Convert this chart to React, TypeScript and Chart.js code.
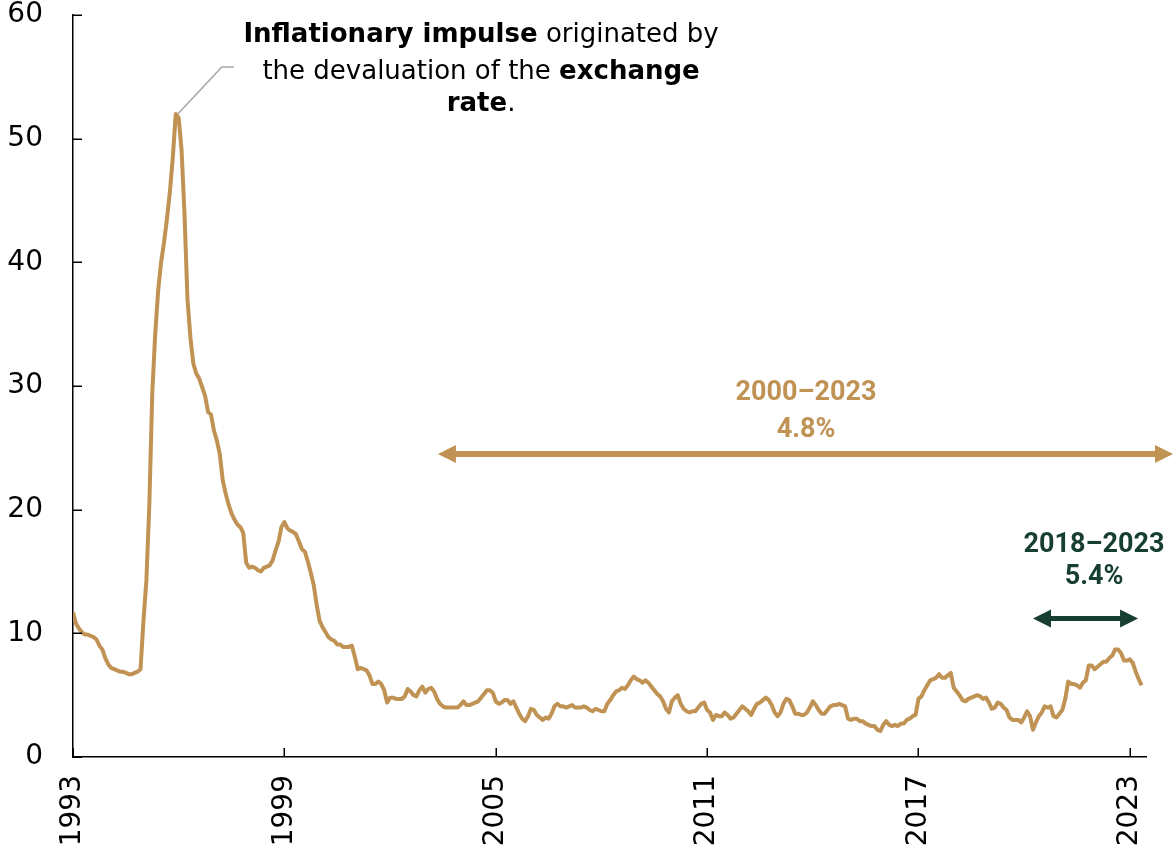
import { useEffect, useRef } from 'react';
import { Chart, registerables } from 'chart.js';

Chart.register(...registerables);

// Annual inflation (%), monthly, Jan 1993 – May 2023
const y1993 = [11.7, 10.8, 10.4, 10.1, 9.9, 9.9, 9.8, 9.7, 9.5, 9.0, 8.7, 8.0];
const y1994 = [7.5, 7.2, 7.1, 7.0, 6.9, 6.9, 6.8, 6.7, 6.7, 6.8, 6.9, 7.1];
const y1995 = [11.0, 14.3, 20.4, 29.4, 34.2, 37.7, 40.0, 41.6, 43.5, 45.7, 48.5, 52.0];
const y1996 = [51.7, 49.0, 43.8, 37.0, 33.9, 31.8, 31.0, 30.6, 29.9, 29.2, 27.9, 27.7];
const y1997 = [26.4, 25.6, 24.5, 22.4, 21.3, 20.4, 19.7, 19.2, 18.8, 18.6, 18.1, 15.7];
const y1998 = [15.3, 15.4, 15.3, 15.1, 15.0, 15.3, 15.4, 15.5, 15.9, 16.7, 17.4, 18.6];
const y1999 = [19.0, 18.5, 18.3, 18.2, 18.0, 17.4, 16.8, 16.6, 15.8, 14.9, 13.9, 12.3];
const y2000 = [11.0, 10.5, 10.1, 9.7, 9.5, 9.4, 9.1, 9.1, 8.9, 8.9, 8.9, 9.0];
const y2001 = [8.1, 7.1, 7.2, 7.1, 7.0, 6.6, 5.9, 5.9, 6.1, 5.9, 5.4, 4.4];
const y2002 = [4.8, 4.8, 4.7, 4.7, 4.7, 4.9, 5.5, 5.3, 5.0, 4.9, 5.4, 5.7];
const y2003 = [5.2, 5.5, 5.6, 5.3, 4.7, 4.3, 4.1, 4.0, 4.0, 4.0, 4.0, 4.0];
const y2004 = [4.2, 4.5, 4.2, 4.2, 4.3, 4.4, 4.5, 4.8, 5.1, 5.4, 5.4, 5.2];
const y2005 = [4.5, 4.3, 4.4, 4.6, 4.6, 4.3, 4.5, 4.0, 3.5, 3.1, 2.9, 3.3];
const y2006 = [3.9, 3.8, 3.4, 3.2, 3.0, 3.2, 3.1, 3.5, 4.1, 4.3, 4.1, 4.1];
const y2007 = [4.0, 4.1, 4.2, 4.0, 4.0, 4.0, 4.1, 4.0, 3.8, 3.7, 3.9, 3.8];
const y2008 = [3.7, 3.7, 4.3, 4.6, 5.0, 5.3, 5.4, 5.6, 5.5, 5.8, 6.2, 6.5];
const y2009 = [6.3, 6.2, 6.0, 6.2, 6.0, 5.7, 5.4, 5.1, 4.9, 4.5, 3.9, 3.6];
const y2010 = [4.5, 4.8, 5.0, 4.3, 3.9, 3.7, 3.6, 3.7, 3.7, 4.0, 4.3, 4.4];
const y2011 = [3.8, 3.6, 3.0, 3.4, 3.3, 3.3, 3.6, 3.4, 3.1, 3.2, 3.5, 3.8];
const y2012 = [4.1, 3.9, 3.7, 3.4, 3.9, 4.3, 4.4, 4.6, 4.8, 4.6, 4.2, 3.6];
const y2013 = [3.3, 3.6, 4.3, 4.7, 4.6, 4.1, 3.5, 3.5, 3.4, 3.4, 3.6, 4.0];
const y2014 = [4.5, 4.2, 3.8, 3.5, 3.5, 3.8, 4.1, 4.2, 4.2, 4.3, 4.2, 4.1];
const y2015 = [3.1, 3.0, 3.1, 3.1, 2.9, 2.9, 2.7, 2.6, 2.5, 2.5, 2.2, 2.1];
const y2016 = [2.6, 2.9, 2.6, 2.5, 2.6, 2.5, 2.7, 2.7, 3.0, 3.1, 3.3, 3.4];
const y2017 = [4.7, 4.9, 5.4, 5.8, 6.2, 6.3, 6.4, 6.7, 6.4, 6.4, 6.6, 6.8];
const y2018 = [5.6, 5.3, 5.0, 4.6, 4.5, 4.7, 4.8, 4.9, 5.0, 4.9, 4.7, 4.8];
const y2019 = [4.4, 3.9, 4.0, 4.4, 4.3, 4.0, 3.8, 3.2, 3.0, 3.0, 3.0, 2.8];
const y2020 = [3.2, 3.7, 3.3, 2.2, 2.8, 3.3, 3.6, 4.1, 4.0, 4.1, 3.3, 3.2];
const y2021 = [3.5, 3.8, 4.7, 6.1, 5.9, 5.9, 5.8, 5.6, 6.0, 6.2, 7.4, 7.4];
const y2022 = [7.1, 7.3, 7.5, 7.7, 7.7, 8.0, 8.2, 8.7, 8.7, 8.4, 7.8, 7.8];
const y2023 = [7.9, 7.6, 6.9, 6.3, 5.8];

const inflation = [
  ...y1993, ...y1994, ...y1995, ...y1996, ...y1997, ...y1998, ...y1999,
  ...y2000, ...y2001, ...y2002, ...y2003, ...y2004, ...y2005, ...y2006,
  ...y2007, ...y2008, ...y2009, ...y2010, ...y2011, ...y2012, ...y2013,
  ...y2014, ...y2015, ...y2016, ...y2017, ...y2018, ...y2019, ...y2020,
  ...y2021, ...y2022, ...y2023,
];

const startYear = 1993;
const tickYears = [1993, 1999, 2005, 2011, 2017, 2023];

const longPeriodLabel = '2000–2023';
const longPeriodValue = '4.8%';
const shortPeriodLabel = '2018–2023';
const shortPeriodValue = '5.4%';

const noteLines = [
  [{ t: 'Inflationary impulse', b: true }, { t: ' originated by', b: false }],
  [{ t: 'the devaluation of the ', b: false }, { t: 'exchange', b: true }],
  [{ t: 'rate', b: true }, { t: '.', b: false }],
];

const GOLD = '#C09354';
const GREEN = '#173F30';
const FONT = '"DejaVu Sans", sans-serif';
const LABEL_FONT = 'Roboto, "DejaVu Sans", sans-serif';

function drawArrow(ctx: CanvasRenderingContext2D, x1: number, x2: number, yy: number, color: string, lw: number, hl: number, hw: number) {
  ctx.save();
  ctx.strokeStyle = color;
  ctx.fillStyle = color;
  ctx.lineWidth = lw;
  ctx.beginPath();
  ctx.moveTo(x1 + hl - 1, yy);
  ctx.lineTo(x2 - hl + 1, yy);
  ctx.stroke();
  ctx.beginPath();
  ctx.moveTo(x1, yy);
  ctx.lineTo(x1 + hl, yy - hw);
  ctx.lineTo(x1 + hl, yy + hw);
  ctx.closePath();
  ctx.fill();
  ctx.beginPath();
  ctx.moveTo(x2, yy);
  ctx.lineTo(x2 - hl, yy - hw);
  ctx.lineTo(x2 - hl, yy + hw);
  ctx.closePath();
  ctx.fill();
  ctx.restore();
}

function drawRuns(ctx: CanvasRenderingContext2D, runs: { t: string; b: boolean }[], cx: number, cy: number, size: number) {
  const fonts = runs.map((r) => `${r.b ? 'bold ' : ''}${size}px ${FONT}`);
  let total = 0;
  const widths = runs.map((r, i) => {
    ctx.font = fonts[i];
    const w = ctx.measureText(r.t).width;
    total += w;
    return w;
  });
  let xx = cx - total / 2;
  ctx.textAlign = 'left';
  ctx.textBaseline = 'middle';
  runs.forEach((r, i) => {
    ctx.font = fonts[i];
    ctx.fillText(r.t, xx, cy);
    xx += widths[i];
  });
}

const annotationPlugin = {
  id: 'customAnnotations',
  afterDraw(chart: any) {
    const { ctx, chartArea, scales } = chart;
    const xs = scales.x;
    const ys = scales.y;
    ctx.save();

    // inward tick marks
    ctx.strokeStyle = '#000';
    ctx.lineWidth = 1.5;
    ys.ticks.forEach((t: any) => {
      const py = Math.round(ys.getPixelForValue(t.value)) + 0.25;
      ctx.beginPath();
      ctx.moveTo(chartArea.left, py);
      ctx.lineTo(chartArea.left + 9, py);
      ctx.stroke();
    });
    xs.ticks.forEach((t: any) => {
      const px = Math.round(xs.getPixelForValue(t.value)) + 0.25;
      ctx.beginPath();
      ctx.moveTo(px, chartArea.bottom);
      ctx.lineTo(px, chartArea.bottom - 9);
      ctx.stroke();
    });

    // leader line from the 1995 peak
    let peakIdx = 0;
    inflation.forEach((v, i) => { if (v > inflation[peakIdx]) peakIdx = i; });
    const px0 = xs.getPixelForValue(peakIdx) + 2;
    const py0 = ys.getPixelForValue(inflation[peakIdx]);
    ctx.strokeStyle = '#A6A6A6';
    ctx.lineWidth = 1.5;
    ctx.beginPath();
    ctx.moveTo(px0, py0);
    ctx.lineTo(xs.getPixelForValue(50.7), ys.getPixelForValue(55.8));
    ctx.lineTo(xs.getPixelForValue(54.8), ys.getPixelForValue(55.8));
    ctx.stroke();

    // note text
    ctx.fillStyle = '#000';
    const noteX = xs.getPixelForValue(139);
    const noteYs = [58.4, 55.4, 52.75];
    noteLines.forEach((runs, i) => drawRuns(ctx, runs, noteX, ys.getPixelForValue(noteYs[i]), 26));

    // long period arrow
    drawArrow(ctx, xs.getPixelForValue(124.3), xs.getPixelForValue(374.7), ys.getPixelForValue(24.5), GOLD, 6, 18, 9);
    ctx.fillStyle = GOLD;
    ctx.font = `bold 27px ${LABEL_FONT}`;
    ctx.textAlign = 'center';
    ctx.textBaseline = 'middle';
    const lx = xs.getPixelForValue(249.7);
    ctx.fillText(longPeriodLabel, lx, ys.getPixelForValue(29.45));
    ctx.fillText(longPeriodValue, lx, ys.getPixelForValue(26.46));

    // short period arrow
    drawArrow(ctx, xs.getPixelForValue(327), xs.getPixelForValue(362.8), ys.getPixelForValue(11.2), GREEN, 5, 18, 9);
    ctx.fillStyle = GREEN;
    const sx = xs.getPixelForValue(347.8);
    ctx.fillText(shortPeriodLabel, sx, ys.getPixelForValue(17.15));
    ctx.fillText(shortPeriodValue, sx, ys.getPixelForValue(14.5));

    ctx.restore();
  },
};

export default function App() {
  const ref = useRef<HTMLCanvasElement | null>(null);

  useEffect(() => {
    if (!ref.current) return;
    Chart.defaults.color = '#000';
    const chart = new Chart(ref.current, {
      type: 'line',
      data: {
        datasets: [
          {
            data: inflation.map((v, i) => ({ x: i, y: v })),
            borderColor: GOLD,
            borderWidth: 4,
            pointRadius: 0,
            tension: 0,
            borderJoinStyle: 'round',
            fill: false,
          },
        ],
      },
      options: {
        animation: false,
        responsive: true,
        maintainAspectRatio: false,
        layout: { padding: { top: 15, right: 27, left: 0, bottom: 0 } },
        plugins: { legend: { display: false }, tooltip: { enabled: false } },
        scales: {
          x: {
            type: 'linear',
            min: 0,
            max: 365.5,
            grid: { display: false, drawTicks: false },
            border: { display: true, color: '#000', width: 1.5 },
            afterFit: (s: any) => {
              s.height = 97;
              s.paddingLeft = 0;
              s.paddingRight = 0;
            },
            ticks: {
              stepSize: 72,
              includeBounds: false,
              autoSkip: false,
              minRotation: 90,
              maxRotation: 90,
              padding: 18,
              font: { family: FONT, size: 28, lineHeight: 1 },
              callback: (v: any) => {
                const yr = startYear + Number(v) / 12;
                return tickYears.includes(yr) ? String(yr) : '';
              },
            },
          },
          y: {
            min: 0,
            max: 60,
            grid: { display: false, drawTicks: false },
            border: { display: true, color: '#000', width: 1.5 },
            afterFit: (s: any) => {
              s.width = 73;
              s.paddingTop = 0;
              s.paddingBottom = 0;
            },
            ticks: {
              stepSize: 10,
              padding: 30,
              font: { family: FONT, size: 28, lineHeight: 1 },
            },
          },
        },
      },
      plugins: [annotationPlugin],
    } as any);
    return () => chart.destroy();
  }, []);

  return (
    <div style={{ position: 'fixed', left: 0, top: 0, width: 1173, height: 854, background: '#fff' }}>
      <canvas ref={ref} />
    </div>
  );
}
